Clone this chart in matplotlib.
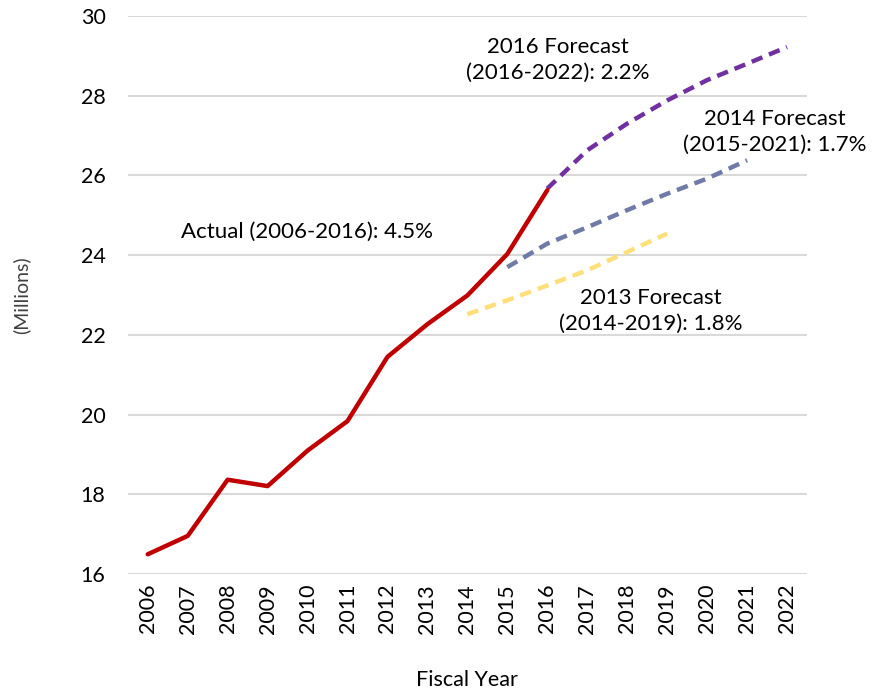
import matplotlib
matplotlib.use('Agg')
import matplotlib.pyplot as plt

plt.rcParams['font.family'] = ['Lato', 'DejaVu Sans']

# data (millions)
years = list(range(2006, 2023))
actual_years = list(range(2006, 2017))
actual = [16.5, 16.96, 18.37, 18.21, 19.1, 19.84, 21.45, 22.27, 22.99, 24.03, 25.63]

f2013_years = list(range(2014, 2020))
f2013 = [22.52, 22.87, 23.24, 23.62, 24.08, 24.54]

f2014_years = list(range(2015, 2022))
f2014 = [23.7, 24.29, 24.7, 25.13, 25.54, 25.92, 26.38]

f2016_years = list(range(2016, 2023))
f2016 = [25.67, 26.63, 27.3, 27.88, 28.39, 28.8, 29.22]

# colours
red = '#C00000'
purple = '#7030A0'
slate = '#6F7AA6'
yellow = '#FFDF7A'

fig = plt.figure(figsize=(8.81, 6.91), dpi=100)
ax = fig.add_axes([0.145, 0.169, 0.771, 0.808])

dash = (2.6, 1.6)
ax.plot(f2013_years, f2013, color=yellow, lw=3.2, dashes=dash)
ax.plot(f2014_years, f2014, color=slate, lw=3.2, dashes=dash)
ax.plot(f2016_years, f2016, color=purple, lw=3.2, dashes=dash)
ax.plot(actual_years, actual, color=red, lw=3.2, solid_capstyle='round')

ax.set_xlim(2005.5, 2022.5)
ax.set_ylim(16, 30)
ax.set_yticks(range(16, 31, 2))
ax.set_xticks(years)
ax.set_xticklabels([str(y) for y in years], rotation=90, fontsize=15.5)
ax.tick_params(axis='y', labelsize=15.5, length=0, pad=16)
ax.tick_params(axis='x', length=0, pad=7)
ax.grid(axis='y', color='#D9D9D9', lw=1.5)
ax.set_axisbelow(True)
for s in ax.spines.values():
    s.set_visible(False)

ax.set_xlabel('Fiscal Year', fontsize=15.5, labelpad=26)
fig.text(0.024, 0.573, '(Millions)', rotation=90, fontsize=14,
         color='#404040', ha='center', va='center')

txt = dict(fontsize=16, ha='center', va='center', linespacing=1.35)
ax.text(2009.98, 24.58, 'Actual (2006-2016): 4.5%', **txt)
ax.text(2016.27, 28.9, '2016 Forecast\n(2016-2022): 2.2%', **txt)
ax.text(2021.7, 27.09, '2014 Forecast\n(2015-2021): 1.7%', **txt)
ax.text(2018.58, 22.6, '2013 Forecast\n(2014-2019): 1.8%', **txt)

fig.savefig('out.png', dpi=100)
